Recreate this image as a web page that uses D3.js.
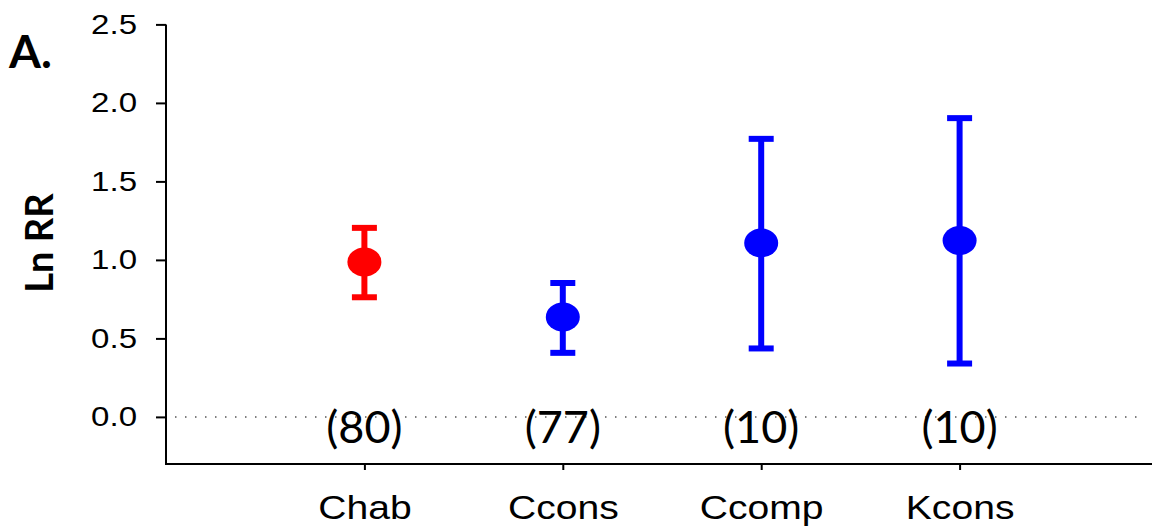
<!DOCTYPE html>
<meta charset="utf-8">
<html>
<head>
  <style>
    body { margin: 0; background: #fff; }
    .axis path, .axis line { stroke: #000; stroke-width: 2px; }
    .axis text { font-family: 'Liberation Sans', Arial, sans-serif; fill: #000; }
    .count { font-family: Lato, sans-serif; font-size: 45px; fill: #000; }
    .title { font-family: Lato, sans-serif; font-weight: 700; fill: #000; }
  </style>
</head>
<body>
<svg width="1152" height="529"></svg>
<script src="https://cdn.jsdelivr.net/npm/d3@7"></script>
<script>

// data
var categories = ["Chab", "Ccons", "Ccomp", "Kcons"];
var means = [0.987, 0.637, 1.108, 1.124];
var lower = [0.762, 0.408, 0.436, 0.340];
var upper = [1.204, 0.853, 1.771, 1.903];
var counts = ["(80)", "(77)", "(10)", "(10)"];
var colors = ["#ff0000", "#0000ff", "#0000ff", "#0000ff"];
var yTicks = [0, 0.5, 1.0, 1.5, 2.0, 2.5];

var svg = d3.select("svg");

var x = d3.scalePoint()
    .domain(categories)
    .range([166, 1158])
    .padding(1);

var y = d3.scaleLinear()
    .domain([-0.3, 2.5])
    .range([464, 24.4]);

var stretch = 1.18;

// y axis
var yAxis = svg.append("g")
    .attr("class", "axis")
    .attr("transform", "translate(166,0)")
    .call(d3.axisLeft(y).tickValues(yTicks).tickFormat(d3.format(".1f"))
      .tickSize(10).tickSizeOuter(0).tickPadding(19));
yAxis.select(".domain").attr("d", "M0," + y(2.5) + "V464");
yAxis.selectAll("text")
    .style("font-size", "28px")
    .attr("x", -29 / stretch)
    .attr("transform", "scale(" + stretch + ",1)");

// x axis
var xAxis = svg.append("g")
    .attr("class", "axis")
    .attr("transform", "translate(0,464)")
    .call(d3.axisBottom(x).tickSize(6).tickSizeOuter(0).tickPadding(25));
xAxis.select(".domain").attr("d", "M165,0H1152");
xAxis.selectAll(".tick text")
    .style("font-size", "34px")
    .attr("transform", "scale(" + (stretch - 0.03) + ",1)");
xAxis.selectAll(".tick text").each(function () {
  // keep the label centred on its tick after the horizontal stretch
  d3.select(this).attr("x", 0);
});

// zero reference line
svg.append("line")
    .attr("x1", 175).attr("x2", 1144)
    .attr("y1", y(0)).attr("y2", y(0))
    .attr("stroke", "#555")
    .attr("stroke-width", 1.5)
    .attr("stroke-dasharray", "1.5,8.5");

// error bars and points
var pts = categories.map(function (c, i) {
  return { cat: c, m: means[i], lo: lower[i], hi: upper[i], col: colors[i], n: counts[i] };
});

var g = svg.selectAll(".pt").data(pts).enter().append("g").attr("class", "pt");

g.append("line")
    .attr("x1", function (d) { return x(d.cat); })
    .attr("x2", function (d) { return x(d.cat); })
    .attr("y1", function (d) { return y(d.lo); })
    .attr("y2", function (d) { return y(d.hi); })
    .attr("stroke", function (d) { return d.col; })
    .attr("stroke-width", 6);

["lo", "hi"].forEach(function (k) {
  g.append("line")
      .attr("x1", function (d) { return x(d.cat) - 12.5; })
      .attr("x2", function (d) { return x(d.cat) + 12.5; })
      .attr("y1", function (d) { return y(d[k]); })
      .attr("y2", function (d) { return y(d[k]); })
      .attr("stroke", function (d) { return d.col; })
      .attr("stroke-width", 6);
});

g.append("ellipse")
    .attr("cx", function (d) { return x(d.cat); })
    .attr("cy", function (d) { return y(d.m); })
    .attr("rx", 17)
    .attr("ry", 14.5)
    .attr("fill", function (d) { return d.col; });

// sample sizes
svg.selectAll(".count").data(pts).enter().append("text")
    .attr("class", "count")
    .attr("x", function (d) { return x(d.cat); })
    .attr("y", 443)
    .attr("text-anchor", "middle")
    .text(function (d) { return d.n; });

// axis title and panel letter
svg.append("text")
    .attr("class", "title")
    .attr("transform", "translate(53,243) rotate(-90)")
    .attr("text-anchor", "middle")
    .style("font-size", "38px")
    .text("Ln RR");

svg.append("text")
    .attr("class", "title")
    .attr("x", 9)
    .attr("y", 68)
    .style("font-size", "46px")
    .text("A.");

</script>
</body>
</html>
